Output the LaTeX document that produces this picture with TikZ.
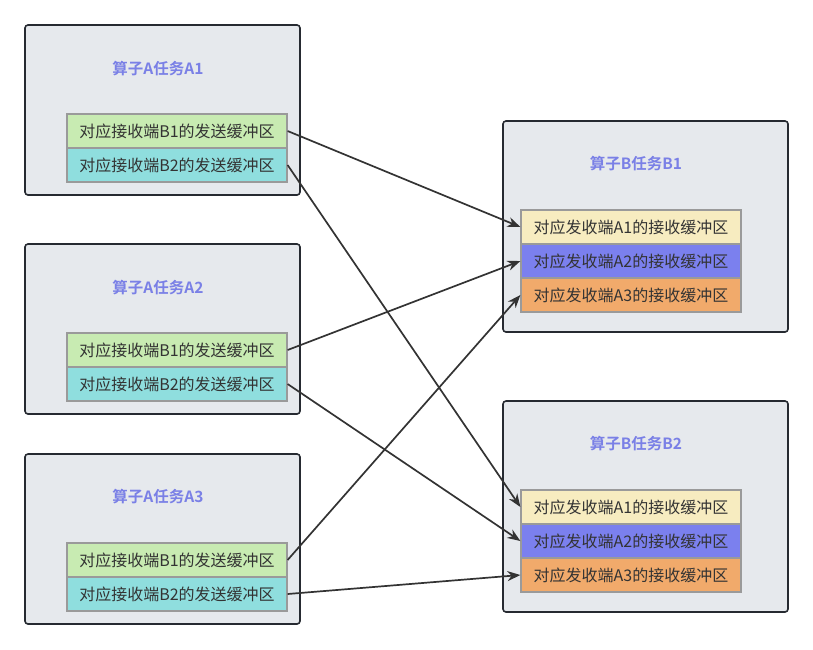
\documentclass[tikz,border=0pt]{standalone}
\usepackage{fontspec}
\usetikzlibrary{arrows.meta}
\newfontfamily\cjk{Noto Sans CJK SC}[BoldFont=Noto Sans CJK SC Bold]
\definecolor{fond}{HTML}{E6E9ED}
\definecolor{bord}{HTML}{262A31}
\definecolor{titrecol}{HTML}{7A80E6}
\definecolor{grisbuf}{HTML}{9A9A9A}
\definecolor{texte}{HTML}{333333}
\definecolor{vert}{HTML}{C8EBB2}
\definecolor{cyan}{HTML}{8FDEDE}
\definecolor{jaune}{HTML}{F7ECC0}
\definecolor{bleu}{HTML}{7B80EE}
\definecolor{orange}{HTML}{F1AA6B}
\tikzset{
	tache/.style={draw=bord, fill=fond, line width=1.6pt, rounded corners=3pt, inner sep=0pt},
	titre/.style={font=\cjk\bfseries\fontsize{15.5}{17}\selectfont, text=titrecol},
	tampon/.style={draw=grisbuf, line width=1.2pt, minimum width=220pt, minimum height=34pt, inner sep=0pt, font=\cjk\fontsize{16}{18}\selectfont, text=texte},
	fleche/.style={draw=texte, line width=1.7pt, -{Stealth[length=13pt,width=10pt]}}
}
\begin{document}
\begin{tikzpicture}[x=1pt,y=-1pt]
	\useasboundingbox (0,0) rectangle (813,649);
%	Tâches de l'opérateur A :
	\node[tache, minimum width=275pt, minimum height=170pt] (ta1) at (162.5,110) {};
	\node[tache, minimum width=275pt, minimum height=170pt] (ta2) at (162.5,329) {};
	\node[tache, minimum width=275pt, minimum height=170pt] (ta3) at (162.5,539) {};
	\node[titre] (tta1) at (158,69) {算子A任务A1};
	\node[titre] (tta2) at (158,288) {算子A任务A2};
	\node[titre] (tta3) at (158,497) {算子A任务A3};
%	Tampons d'envoi :
	\node[tampon, fill=vert] (a1b1) at (177,131) {对应接收端B1的发送缓冲区};
	\node[tampon, fill=cyan] (a1b2) at (177,165) {对应接收端B2的发送缓冲区};
	\node[tampon, fill=vert] (a2b1) at (177,350) {对应接收端B1的发送缓冲区};
	\node[tampon, fill=cyan] (a2b2) at (177,384) {对应接收端B2的发送缓冲区};
	\node[tampon, fill=vert] (a3b1) at (177,560) {对应接收端B1的发送缓冲区};
	\node[tampon, fill=cyan] (a3b2) at (177,594) {对应接收端B2的发送缓冲区};
%	Tâches de l'opérateur B :
	\node[tache, minimum width=285pt, minimum height=211pt] (tb1) at (645.5,226.5) {};
	\node[tache, minimum width=285pt, minimum height=211pt] (tb2) at (645.5,506.5) {};
	\node[titre] (ttb1) at (636,164) {算子B任务B1};
	\node[titre] (ttb2) at (636,444) {算子B任务B2};
%	Tampons de réception :
	\node[tampon, fill=jaune] (b1a1) at (631,227) {对应发收端A1的接收缓冲区};
	\node[tampon, fill=bleu] (b1a2) at (631,261) {对应发收端A2的接收缓冲区};
	\node[tampon, fill=orange] (b1a3) at (631,295) {对应发收端A3的接收缓冲区};
	\node[tampon, fill=jaune] (b2a1) at (631,507) {对应发收端A1的接收缓冲区};
	\node[tampon, fill=bleu] (b2a2) at (631,541) {对应发收端A2的接收缓冲区};
	\node[tampon, fill=orange] (b2a3) at (631,575) {对应发收端A3的接收缓冲区};
%	Flèches :
	\foreach \a in {1,2,3}
		\foreach \b in {1,2}
			\draw[fleche] (a\a b\b.east) -- (b\b a\a.west);
\end{tikzpicture}
\end{document}
